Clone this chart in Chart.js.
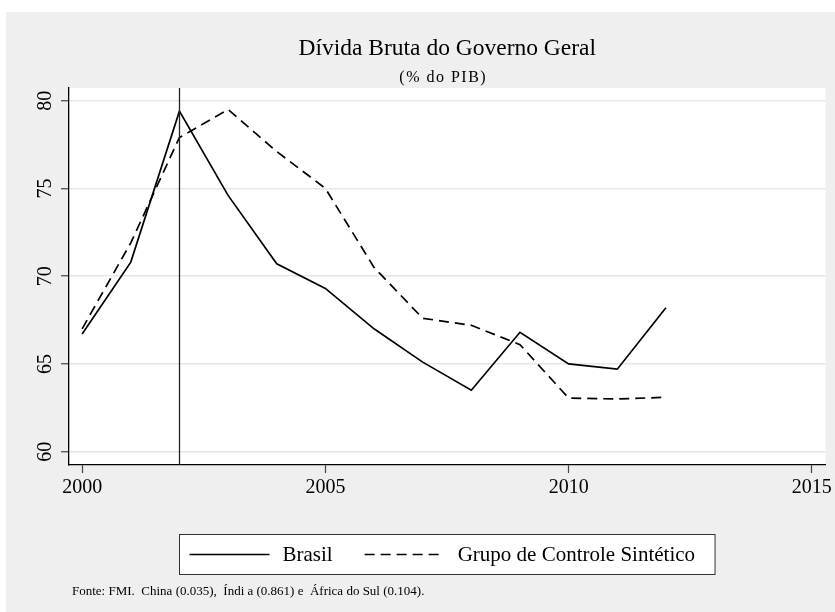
<!DOCTYPE html>
<html>
<head>
<meta charset="utf-8">
<script src="https://cdn.jsdelivr.net/npm/chart.js@4"></script>
<style>
  html, body { margin: 0; padding: 0; background: #fff; }
  #wrap { width: 835px; height: 612px; position: relative; }
</style>
</head>
<body>
<div id="wrap"><canvas id="chart" width="835" height="612"></canvas></div>
<script>
// data
const years = [2000, 2001, 2002, 2003, 2004, 2005, 2006, 2007, 2008, 2009, 2010, 2011, 2012];
const brasil = [66.7, 70.8, 79.4, 74.6, 70.7, 69.3, 67.0, 65.1, 63.5, 66.8, 65.0, 64.7, 68.2];
const sintetico = [67.0, 71.9, 77.9, 79.5, 77.1, 75.0, 70.5, 67.6, 67.2, 66.1, 63.05, 63.0, 63.1];
const xTicks = [2000, 2005, 2010, 2015];
const yTicks = [60, 65, 70, 75, 80];
const interventionYear = 2002;

const titleText = "Dívida Bruta do Governo Geral";
const subtitleText = "(% do PIB)";
const seriesNames = ["Brasil", "Grupo de Controle Sintético"];
const noteText = "Fonte: FMI.  China (0.035),  Índi a (0.861) e  África do Sul (0.104).";

const serif = "'Liberation Serif', 'Times New Roman', serif";

// background, plot region, titles, intervention line, legend, footnote
const decorations = {
  id: "decorations",
  beforeDraw(chart) {
    const { ctx, chartArea: a } = chart;
    ctx.save();
    ctx.fillStyle = "#ffffff";
    ctx.fillRect(0, 0, chart.width, chart.height);
    ctx.fillStyle = "#efefef";
    ctx.fillRect(6, 12, chart.width - 6, chart.height - 12);
    ctx.fillStyle = "#ffffff";
    ctx.fillRect(a.left, a.top, a.right - a.left, a.bottom - a.top);
    ctx.restore();
  },
  afterDatasetsDraw(chart) {
    const { ctx, chartArea: a, scales } = chart;
    const cx = (a.left + a.right) / 2;
    ctx.save();

    // vertical line at the intervention year
    const vx = Math.round(scales.x.getPixelForValue(interventionYear)) + 0.5;
    ctx.strokeStyle = "#222";
    ctx.lineWidth = 1.3;
    ctx.beginPath();
    ctx.moveTo(vx, a.top);
    ctx.lineTo(vx, a.bottom);
    ctx.stroke();

    // titles
    ctx.fillStyle = "#000";
    ctx.textAlign = "center";
    ctx.textBaseline = "middle";
    ctx.font = "23.5px " + serif;
    ctx.fillText(titleText, cx, 49);
    ctx.font = "16px " + serif;
    ctx.letterSpacing = "1.5px";
    ctx.fillText(subtitleText, cx - 4, 78);
    ctx.letterSpacing = "0px";

    // legend
    ctx.font = "21px " + serif;
    const sample = 80, gapText = 13, gapItem = 32, padL = 10, padR = 20;
    const w0 = ctx.measureText(seriesNames[0]).width;
    const w1 = ctx.measureText(seriesNames[1]).width;
    const boxW = padL + sample + gapText + w0 + gapItem + sample + gapText + w1 + padR;
    const boxL = Math.round(cx - boxW / 2) + 0.5;
    const boxT = 534.5, boxH = 40;
    ctx.fillStyle = "#fff";
    ctx.fillRect(boxL, boxT, boxW, boxH);
    ctx.strokeStyle = "#333";
    ctx.lineWidth = 1;
    ctx.strokeRect(boxL, boxT, boxW, boxH);

    const ly = boxT + boxH / 2;
    let x = boxL + padL;
    chart.data.datasets.forEach((ds, i) => {
      ctx.strokeStyle = ds.borderColor;
      ctx.lineWidth = ds.borderWidth;
      ctx.setLineDash(ds.borderDash || []);
      ctx.beginPath();
      ctx.moveTo(x, ly);
      ctx.lineTo(x + sample, ly);
      ctx.stroke();
      ctx.setLineDash([]);
      x += sample + gapText;
      ctx.fillStyle = "#000";
      ctx.textAlign = "left";
      ctx.fillText(ds.label, x, ly + 1);
      x += (i === 0 ? w0 : w1) + gapItem;
    });

    // footnote
    ctx.font = "13px " + serif;
    ctx.textAlign = "left";
    ctx.fillStyle = "#000";
    ctx.fillText(noteText, 72, 592);
    ctx.restore();
  }
};

new Chart(document.getElementById("chart"), {
  type: "line",
  data: {
    datasets: [
      {
        label: seriesNames[0],
        data: years.map((y, i) => ({ x: y, y: brasil[i] })),
        borderColor: "#000",
        borderWidth: 1.7,
        pointRadius: 0,
        tension: 0,
        fill: false
      },
      {
        label: seriesNames[1],
        data: years.map((y, i) => ({ x: y, y: sintetico[i] })),
        borderColor: "#000",
        borderWidth: 1.7,
        borderDash: [10, 6],
        pointRadius: 0,
        tension: 0,
        fill: false
      }
    ]
  },
  options: {
    responsive: false,
    animation: false,
    devicePixelRatio: 1,
    layout: { padding: { left: 0, top: 88, right: 7, bottom: 0 } },
    plugins: {
      legend: { display: false },
      title: { display: false },
      tooltip: { enabled: false }
    },
    scales: {
      x: {
        type: "linear",
        min: 1999.73,
        max: 2015.28,
        afterBuildTicks: s => { s.ticks = xTicks.map(v => ({ value: v })); },
        afterFit: s => { s.height = 147; },
        grid: { drawOnChartArea: false, tickLength: 8, tickColor: "#444", tickWidth: 1.2 },
        border: { display: true, color: "#000", width: 1.3 },
        ticks: {
          color: "#000",
          font: { family: serif, size: 20 },
          padding: 3,
          maxRotation: 0,
          callback: v => String(v)
        }
      },
      y: {
        min: 59.24,
        max: 80.72,
        afterBuildTicks: s => { s.ticks = yTicks.map(v => ({ value: v })); },
        afterFit: s => { s.width = 69; },
        grid: { color: "#e6e6e6", lineWidth: 1.5, tickLength: 8, tickColor: "#444", tickWidth: 1.2 },
        border: { display: true, color: "#000", width: 1.3 },
        ticks: {
          color: "#000",
          font: { family: serif, size: 20 },
          padding: 5,
          minRotation: 90,
          maxRotation: 90,
          crossAlign: "center",
          callback: v => String(v)
        }
      }
    }
  },
  plugins: [decorations]
});
</script>
</body>
</html>
